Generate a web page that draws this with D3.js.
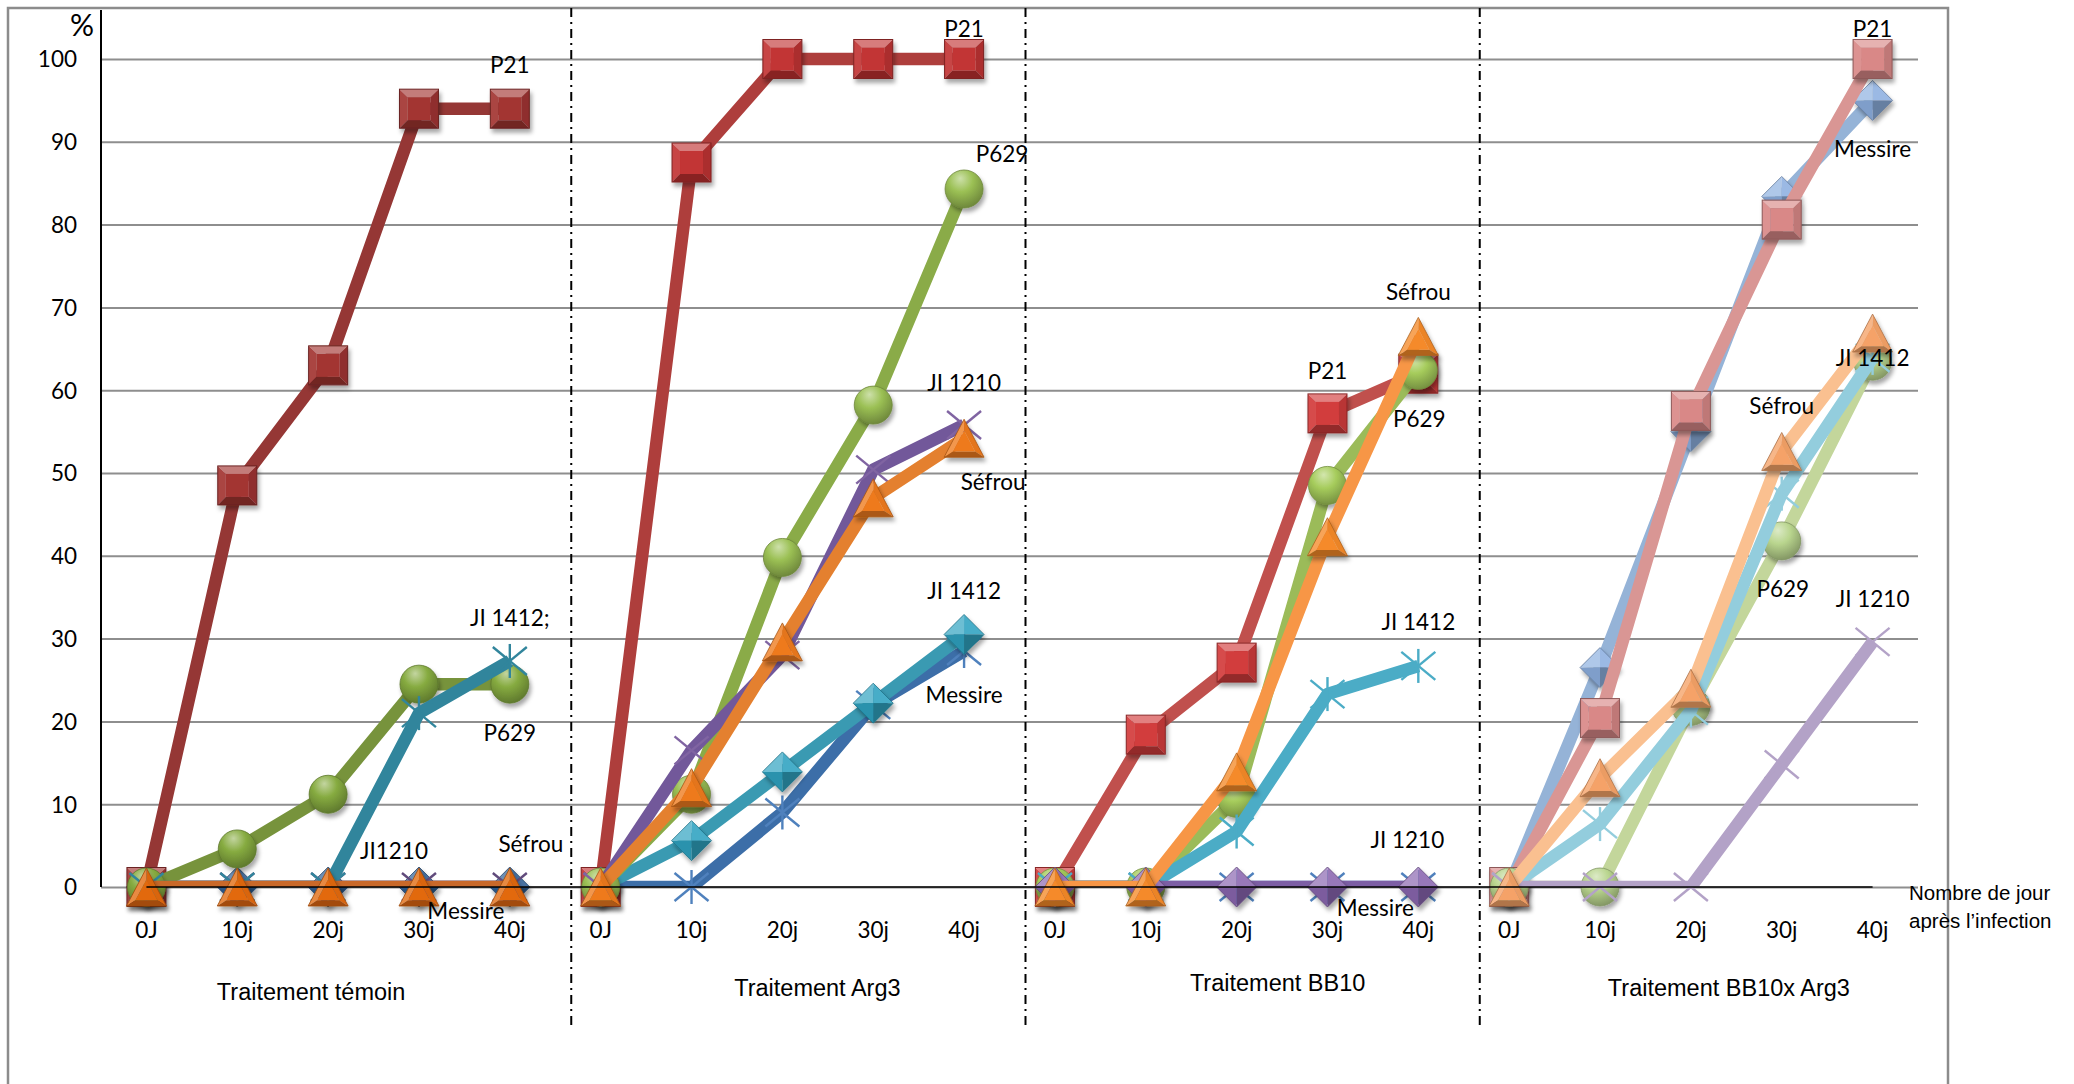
<!DOCTYPE html>
<html lang="fr">
<head>
<meta charset="utf-8">
<title>Évolution de l'infection selon le traitement</title>
<script src="https://cdn.jsdelivr.net/npm/d3@7"></script>
<style>
  html, body { margin: 0; padding: 0; background: #fff; }
  svg { display: block; }
</style>
</head>
<body>
<svg id="chart" width="2074" height="1084"></svg>
<script>
// ---- data -----------------------------------------------------------
const days = ["0J", "10j", "20j", "30j", "40j"];
const treatments = ["Traitement témoin", "Traitement Arg3", "Traitement BB10", "Traitement BB10x Arg3"];
const varieties = ["Messire", "JI 1210", "JI 1412", "P21", "P629", "Séfrou"];
const yTicks = [0, 10, 20, 30, 40, 50, 60, 70, 80, 90, 100];

// infection (%) per variety, rows follow `varieties`
const temoin = [
  [0, 0, 0, 0, 0],
  [0, 0, 0, 0, 0],
  [0, 0, 0, 21, 27.3],
  [0, 48.5, 63, 94, 94],
  [0, 4.6, 11.2, 24.5, 24.5],
  [0, 0, 0, 0, 0]
];
const arg3 = [
  [0, 0, 9, 22, 28.5],
  [0, 16.5, 28, 50.4, 55.8],
  [0, 5.6, 13.9, 22.2, 30.5],
  [0, 87.5, 100, 100, 100],
  [0, 11.2, 39.8, 58.2, 84.3],
  [0, 12, 29.6, 47, 54.2]
];
const bb10 = [
  [0, 0, 0, 0, 0],
  [0, 0, 0, 0, 0],
  [0, 0, 6.7, 23.3, 26.7],
  [0, 18.4, 27.1, 57.2, 62],
  [0, 0, 10.7, 48.5, 62.4],
  [0, 0, 13.9, 42.3, 66.5]
];
const bb10Arg3 = [
  [0, 26.5, 55, 83.4, 95],
  [0, 0, 0, 14.8, 29.6],
  [0, 7.6, 21.3, 47.5, 63.9],
  [0, 20.4, 57.5, 80.6, 100],
  [0, 0, 21.8, 41.8, 63.5],
  [0, 13.2, 24, 52.6, 66.9]
];

// data labels: [text, variety index, day index]
const temoinLabels = [["P21", 3, 4], ["JI 1412;", 2, 4], ["P629", 4, 4], ["JI1210", 1, 3], ["Séfrou", 5, 4], ["Messire", 0, 4]];
const arg3Labels = [["P21", 3, 4], ["P629", 4, 4], ["JI 1210", 1, 4], ["Séfrou", 5, 4], ["JI 1412", 2, 4], ["Messire", 0, 4]];
const bb10Labels = [["Séfrou", 5, 4], ["P21", 3, 3], ["P629", 4, 4], ["JI 1412", 2, 4], ["JI 1210", 1, 4], ["Messire", 0, 4]];
const bb10Arg3Labels = [["P21", 3, 4], ["Messire", 0, 4], ["Séfrou", 5, 3], ["JI 1412", 2, 4], ["P629", 4, 3], ["JI 1210", 1, 4]];

// ---- styling --------------------------------------------------------
// label offsets from their point (px), same order as the label arrays
const labelOffsets = [
  [[0, -44], [0, -43], [0, 48], [-25, -37], [21, -44], [-44, 23]],
  [[0, -31], [38, -35], [0, -42], [29, 43], [0, -44], [0, 43]],
  [[0, -45], [0, -43], [1, 48], [0, -44], [-11, -48], [-43, 20]],
  [[0, -31], [0, 48], [0, -46], [0, 0], [1, 48], [0, -43]]
];
// per panel: for each variety -> [shape, line colour, marker colour]
const panelStyles = [
  [["diamond", "#2F5F95", "#2F5F95"], ["xmark", "#604A7B", "#604A7B"], ["star", "#31859C", "#31859C"],
   ["square", "#953735", "#A33533"], ["circle", "#77933C", "#86AB40"], ["triangle", "#C9692A", "#E2690E"]],
  [["star", "#3C6EA8", "#4F81BD"], ["xmark", "#72589A", "#8064A2"], ["diamond", "#3A9AB2", "#2EA2C0"],
   ["square", "#AE3E3C", "#C23434"], ["circle", "#8AAB48", "#9BC054"], ["triangle", "#E4802F", "#EE7A1C"]],
  [["star", "#4F81BD", "#4F81BD"], ["diamond", "#7D5FA5", "#8A66B0"], ["star", "#4BACC6", "#4BACC6"],
   ["square", "#C0504D", "#D23C3C"], ["circle", "#9BBB59", "#A6CC5C"], ["triangle", "#F79646", "#F58A2A"]],
  [["diamond", "#95B3D7", "#8DB0E0"], ["xmark", "#B3A2C7", "#B3A2C7"], ["star", "#93CDDD", "#93CDDD"],
   ["square", "#D99694", "#D98887"], ["circle", "#C3D69B", "#B9D58E"], ["triangle", "#FAC090", "#F5A267"]]
];
// drawing order of the varieties within each panel (last on top)
const panelOrder = [
  [0, 1, 3, 4, 2, 5],
  [3, 0, 2, 4, 1, 5],
  [0, 3, 4, 2, 1, 5],
  [0, 3, 4, 2, 1, 5]
];
const titleOffsets = [[-17, 105], [35, 101], [41, 96], [38, 101]];

const panelValues = [temoin, arg3, bb10, bb10Arg3];
const panelLabels = [temoinLabels, arg3Labels, bb10Labels, bb10Arg3Labels];

// ---- scales ---------------------------------------------------------
const categories = treatments.flatMap((t, p) => days.map((d, i) => p * days.length + i));
const x = d3.scaleBand().domain(categories).range([101, 1918]).padding(0);
const cx = i => x(i) + x.bandwidth() / 2;
const y = d3.scaleLinear().domain([0, 100]).range([887, 59]);
const plotTop = 10;

const svg = d3.select("#chart");
const defs = svg.append("defs");

const shadow = defs.append("filter").attr("id", "shadow")
  .attr("x", "-50%").attr("y", "-50%").attr("width", "200%").attr("height", "200%");
shadow.append("feDropShadow").attr("dx", 2).attr("dy", 4).attr("stdDeviation", 2.2)
  .attr("flood-color", "#000").attr("flood-opacity", 0.35);

defs.append("clipPath").attr("id", "plotClip").append("rect")
  .attr("x", x.range()[0]).attr("y", 0)
  .attr("width", x.range()[1] - x.range()[0]).attr("height", y(0));

const lighten = (c, t) => d3.interpolateRgb(c, "#ffffff")(t);
const darken = (c, t) => d3.interpolateRgb(c, "#000000")(t);

const gradients = new Map();
function sphereGradient(c) {
  if (gradients.has(c)) return gradients.get(c);
  const id = "sphere" + gradients.size;
  const g = defs.append("radialGradient").attr("id", id)
    .attr("cx", "42%").attr("cy", "30%").attr("r", "72%").attr("fx", "40%").attr("fy", "22%");
  g.append("stop").attr("offset", "0%").attr("stop-color", lighten(c, 0.5));
  g.append("stop").attr("offset", "45%").attr("stop-color", c);
  g.append("stop").attr("offset", "100%").attr("stop-color", darken(c, 0.3));
  gradients.set(c, "url(#" + id + ")");
  return gradients.get(c);
}

const poly = pts => pts.map(p => p.join(",")).join(" ");

function drawMarker(g, shape, c, px, py) {
  const m = g.append("g").attr("transform", `translate(${px},${py})`);
  if (shape === "square") {
    const h = 19.5, i = 11.5;
    m.attr("filter", "url(#shadow)");
    m.append("polygon").attr("points", poly([[-h, -h], [h, -h], [i, -i], [-i, -i]])).attr("fill", lighten(c, 0.35));
    m.append("polygon").attr("points", poly([[-h, -h], [-i, -i], [-i, i], [-h, h]])).attr("fill", lighten(c, 0.08));
    m.append("polygon").attr("points", poly([[h, -h], [h, h], [i, i], [i, -i]])).attr("fill", darken(c, 0.12));
    m.append("polygon").attr("points", poly([[-h, h], [-i, i], [i, i], [h, h]])).attr("fill", darken(c, 0.3));
    m.append("rect").attr("x", -i).attr("y", -i).attr("width", 2 * i).attr("height", 2 * i).attr("fill", c);
    m.append("rect").attr("x", -h).attr("y", -h).attr("width", 2 * h).attr("height", 2 * h)
      .attr("fill", "none").attr("stroke", darken(c, 0.35)).attr("stroke-width", 1);
  } else if (shape === "circle") {
    m.attr("filter", "url(#shadow)");
    m.append("circle").attr("r", 19).attr("fill", sphereGradient(c))
      .attr("stroke", darken(c, 0.3)).attr("stroke-width", 0.8);
  } else if (shape === "triangle") {
    const A = [0, -19], B = [-20, 19], C = [20, 19];
    const k = 0.55; // inner face scale toward the centroid
    const g0 = [0, 6.3];
    const s = p => [g0[0] + (p[0] - g0[0]) * k, g0[1] + (p[1] - g0[1]) * k];
    const a = s(A), b = s(B), cc = s(C);
    m.attr("filter", "url(#shadow)");
    m.append("polygon").attr("points", poly([A, B, b, a])).attr("fill", lighten(c, 0.22));
    m.append("polygon").attr("points", poly([A, a, cc, C])).attr("fill", darken(c, 0.04));
    m.append("polygon").attr("points", poly([B, C, cc, b])).attr("fill", darken(c, 0.28));
    m.append("polygon").attr("points", poly([a, b, cc])).attr("fill", c);
    m.append("polygon").attr("points", poly([A, B, C])).attr("fill", "none")
      .attr("stroke", darken(c, 0.3)).attr("stroke-width", 0.8);
  } else if (shape === "diamond") {
    const r = 20;
    m.attr("filter", "url(#shadow)");
    m.append("polygon").attr("points", poly([[0, 0], [-r, 0], [0, -r]])).attr("fill", lighten(c, 0.3));
    m.append("polygon").attr("points", poly([[0, 0], [0, -r], [r, 0]])).attr("fill", lighten(c, 0.12));
    m.append("polygon").attr("points", poly([[0, 0], [r, 0], [0, r]])).attr("fill", darken(c, 0.28));
    m.append("polygon").attr("points", poly([[0, 0], [0, r], [-r, 0]])).attr("fill", darken(c, 0.1));
    m.append("polygon").attr("points", poly([[-r, 0], [0, -r], [r, 0], [0, r]])).attr("fill", "none")
      .attr("stroke", darken(c, 0.3)).attr("stroke-width", 0.8);
  } else {
    // cross marker; the star variant adds a vertical stroke
    const segs = [[-17, -14, 17, 14], [-17, 14, 17, -14]];
    if (shape === "star") segs.push([0, -17, 0, 17]);
    segs.forEach(sg => m.append("line")
      .attr("x1", sg[0]).attr("y1", sg[1]).attr("x2", sg[2]).attr("y2", sg[3])
      .attr("stroke", c).attr("stroke-width", 2.4).attr("stroke-linecap", "butt"));
  }
}

// ---- frame ----------------------------------------------------------
svg.append("rect").attr("x", 8).attr("y", 8).attr("width", 1940).attr("height", 1100)
  .attr("fill", "#fff").attr("stroke", "#8c8c8c").attr("stroke-width", 2.5);

// ---- gridlines & y axis ---------------------------------------------
const yAxis = d3.axisLeft(y).tickValues(yTicks)
  .tickSize(-(x.range()[1] - x.range()[0])).tickPadding(24).tickFormat(d3.format("d"));
const gy = svg.append("g").attr("transform", `translate(${x.range()[0]},0)`).call(yAxis);
gy.select(".domain").remove();
gy.selectAll(".tick line").attr("stroke", "#8e8e8e").attr("stroke-width", 2);
gy.selectAll(".tick text").attr("font-family", "Lato, 'Open Sans', sans-serif")
  .attr("font-size", 22.5).attr("fill", "#000").attr("dy", "0.35em");

svg.append("line").attr("x1", x.range()[0]).attr("x2", x.range()[0])
  .attr("y1", plotTop).attr("y2", y(0)).attr("stroke", "#000").attr("stroke-width", 2);

svg.append("text").attr("x", 82).attr("y", 24).attr("text-anchor", "middle")
  .attr("dominant-baseline", "central")
  .attr("font-family", "Lato, 'Open Sans', sans-serif").attr("font-size", 30).text("%");

// ---- x axis labels --------------------------------------------------
const xAxis = d3.axisBottom(x).tickSize(0).tickPadding(0).tickFormat(i => days[i % days.length]);
const gx = svg.append("g").attr("transform", `translate(0,${y(0)})`).call(xAxis);
gx.select(".domain").remove();
gx.selectAll(".tick text").attr("font-family", "Lato, 'Open Sans', sans-serif")
  .attr("font-size", 22.5).attr("fill", "#000").attr("y", 43).attr("dy", "0.35em");

// ---- panel separators -----------------------------------------------
[1, 2, 3].forEach(p => {
  const sx = x(p * days.length) + 16;
  svg.append("line").attr("x1", sx).attr("x2", sx).attr("y1", 8).attr("y2", 1025)
    .attr("stroke", "#000").attr("stroke-width", 2).attr("stroke-dasharray", "9,5,2,5");
});

// ---- series ---------------------------------------------------------
const line = d3.line().x(d => cx(d.i)).y(d => y(d.v)).curve(d3.curveLinear);
const seriesLayer = svg.append("g");

panelValues.forEach((rows, p) => {
  panelOrder[p].forEach(s => {
    const [shape, lineColor, markColor] = panelStyles[p][s];
    const pts = rows[s].map((v, k) => ({ i: p * days.length + k, v }));
    const g = seriesLayer.append("g").attr("class", "series")
      .attr("data-variety", varieties[s]).attr("data-treatment", treatments[p]);
    g.append("path").attr("d", line(pts)).attr("fill", "none")
      .attr("stroke", lineColor).attr("stroke-width", 12.5)
      .attr("stroke-linejoin", "round").attr("clip-path", "url(#plotClip)");
    pts.forEach(d => drawMarker(g, shape, markColor, cx(d.i), y(d.v)));
  });
});

// zero line across the categories
svg.append("line").attr("x1", cx(0)).attr("x2", cx(categories.length - 1))
  .attr("y1", y(0)).attr("y2", y(0)).attr("stroke", "#000").attr("stroke-width", 1.6);

// ---- data labels ----------------------------------------------------
panelLabels.forEach((labels, p) => {
  labels.forEach(([txt, s, k], j) => {
    const [dx, dy] = labelOffsets[p][j];
    svg.append("text")
      .attr("x", cx(p * days.length + k) + dx)
      .attr("y", y(panelValues[p][s][k]) + dy)
      .attr("text-anchor", "middle").attr("dominant-baseline", "central")
      .attr("font-family", "Lato, 'Open Sans', sans-serif").attr("font-size", 22.5)
      .attr("fill", "#000").text(txt);
  });
});

// ---- panel titles ---------------------------------------------------
treatments.forEach((t, p) => {
  const mid = (cx(p * days.length) + cx(p * days.length + days.length - 1)) / 2;
  svg.append("text").attr("x", mid + titleOffsets[p][0]).attr("y", y(0) + titleOffsets[p][1])
    .attr("text-anchor", "middle").attr("dominant-baseline", "central")
    .attr("font-family", "'Liberation Sans', Arial, sans-serif").attr("font-size", 23.5)
    .attr("fill", "#000").text(t);
});

// ---- x axis caption -------------------------------------------------
const cap = svg.append("text").attr("x", 1909).attr("y", 893)
  .attr("font-family", "'Liberation Sans', Arial, sans-serif").attr("font-size", 20.5).attr("fill", "#000");
cap.append("tspan").attr("x", 1909).attr("dy", "0.35em").text("Nombre de jour");
cap.append("tspan").attr("x", 1909).attr("dy", 28).text("après l’infection");
</script>
</body>
</html>
